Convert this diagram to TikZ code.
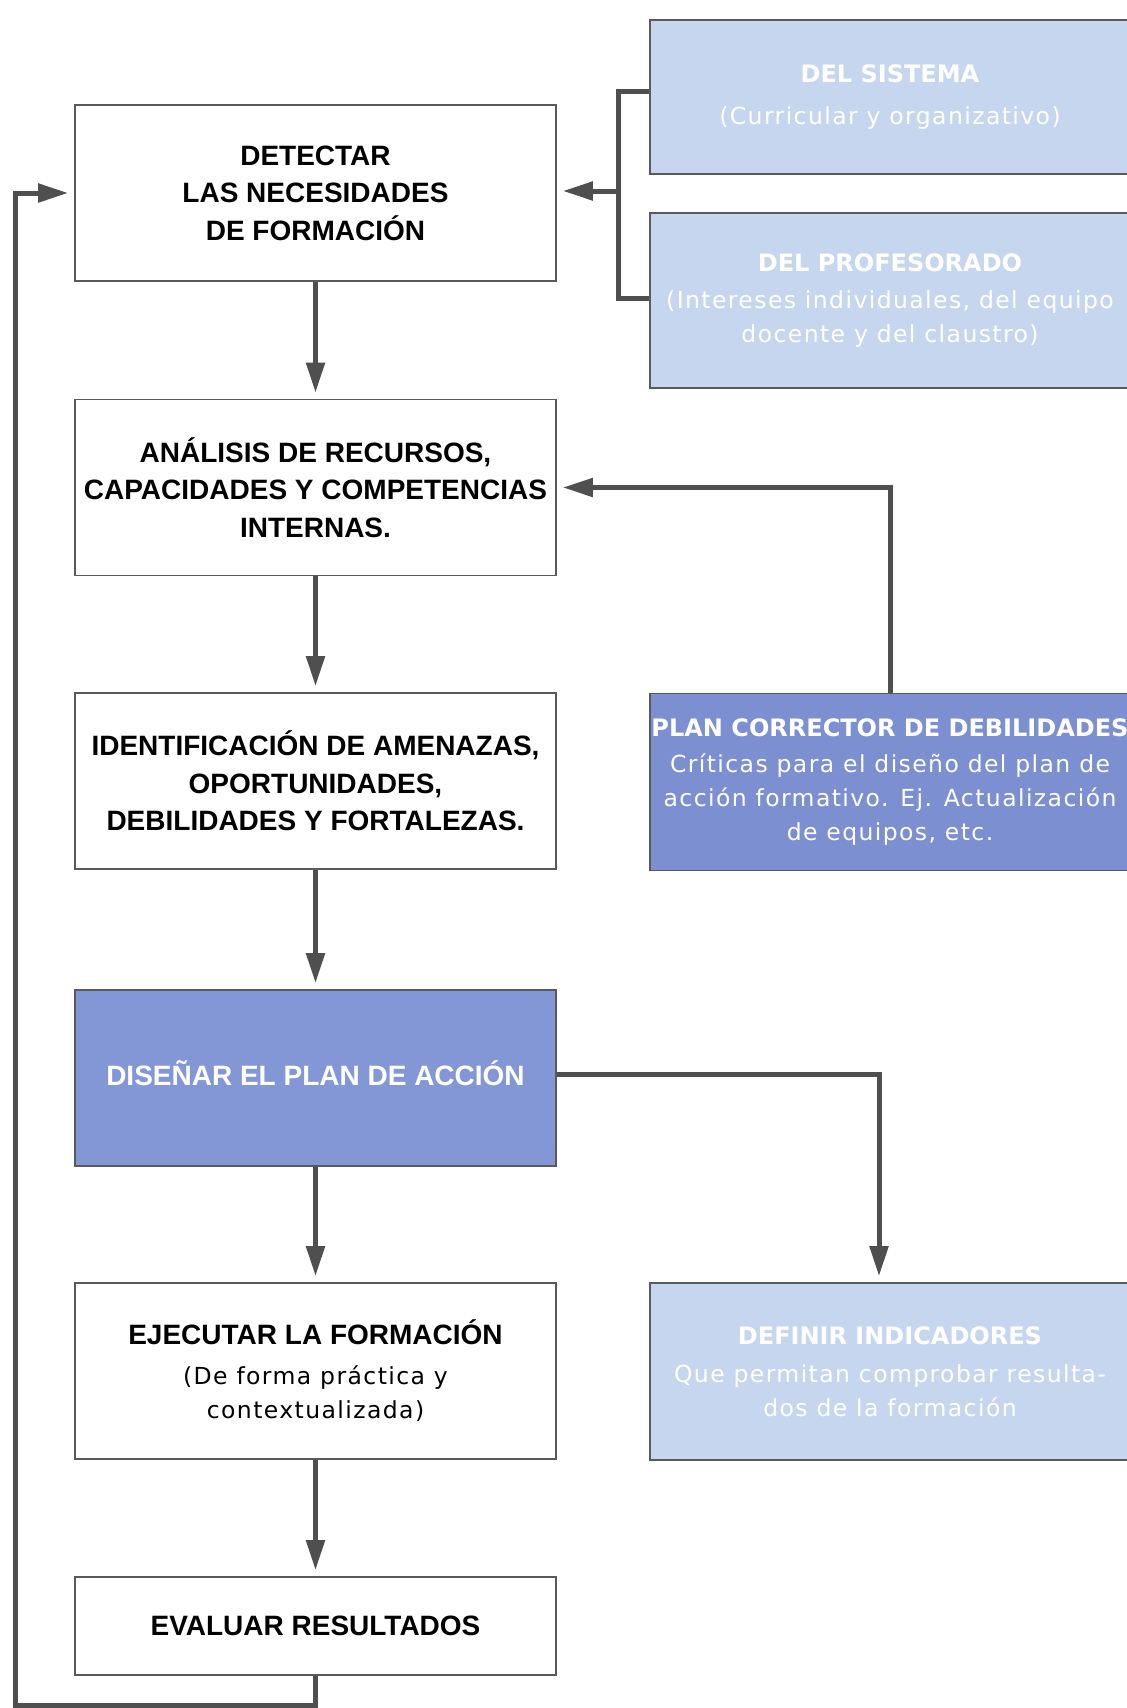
\documentclass[tikz,border=0pt]{standalone}
\usepackage{fontspec}
\setmainfont{Liberation Sans}
\newfontfamily\titf{Liberation Sans}
\newfontfamily\regf[LetterSpace=6]{DejaVu Sans}
\newfontfamily\rtitf{DejaVu Sans}
\usetikzlibrary{arrows.meta}
\definecolor{lineg}{HTML}{4F4F4F}
\definecolor{boxg}{HTML}{5A5A5A}
\definecolor{lightb}{HTML}{C6D6EE}
\definecolor{midb}{HTML}{8397D6}
\definecolor{midb2}{HTML}{7B8FD1}
\newcommand{\ltitle}{\titf\bfseries\fontsize{28}{37.5}\selectfont}
\newcommand{\lsubt}{\regf\fontsize{23.5}{34}\selectfont}
\newcommand{\rtitle}{\rtitf\bfseries\fontsize{24}{34}\selectfont}
\newcommand{\rsubt}{\regf\fontsize{23.5}{34}\selectfont}
\tikzset{
  wbox/.style={draw=boxg, line width=1.6pt, fill=white, minimum width=481pt,
    minimum height=176pt, inner sep=0pt, align=center, text=black, font=\ltitle},
  lbox/.style={draw=boxg, line width=1.6pt, fill=lightb, minimum width=480pt,
    inner sep=0pt, align=center, text=white, font=\rsubt},
  mbox/.style={draw=boxg, line width=1.6pt, fill=midb, minimum width=481pt,
    minimum height=176pt, inner sep=0pt, align=center, text=white, font=\ltitle},
  conn/.style={draw=lineg, line width=5pt},
  arr/.style={conn, -{Triangle[length=30pt,width=18pt]}, shorten >=6pt},
}
\begin{document}
\begin{tikzpicture}[x=1pt,y=-1pt]
\useasboundingbox (0,0) rectangle (1127,1708);
% left column
\node[wbox] (det) at (315.5,193) {DETECTAR\\ LAS NECESIDADES\\ DE FORMACIÓN};
\node[wbox] (ana) at (315.5,487.5) {ANÁLISIS DE RECURSOS,\\ CAPACIDADES Y COMPETENCIAS\\ INTERNAS.};
\node[wbox] (ide) at (315.5,781) {IDENTIFICACIÓN DE AMENAZAS,\\ OPORTUNIDADES,\\ DEBILIDADES Y FORTALEZAS.};
\node[mbox, text depth=10pt] (dis) at (315.5,1078) {DISEÑAR EL PLAN DE ACCIÓN};
\node[wbox, font=\lsubt] (eje) at (315.5,1371) {{\ltitle EJECUTAR LA FORMACIÓN}\\[6pt] (De forma práctica y\\ contextualizada)};
\node[wbox, minimum height=98pt] (eva) at (315.5,1626) {EVALUAR RESULTADOS};
% right column
\node[lbox, minimum height=154pt] (sis) at (890,97) {{\rtitle DEL SISTEMA}\\[8pt] (Curricular y organizativo)};
\node[lbox, minimum height=175pt] (pro) at (890,300.5) {{\rtitle DEL PROFESORADO}\\[3pt] (Intereses individuales, del equipo\\ docente y del claustro)};
\node[lbox, fill=midb2, minimum height=177pt] (pla) at (890,782) {{\rtitle PLAN CORRECTOR DE DEBILIDADES}\\[2pt] Críticas para el diseño del plan de\\ acción formativo. Ej. Actualización\\ de equipos, etc.};
\node[lbox, minimum height=177pt] (def) at (890,1371.5) {{\rtitle DEFINIR INDICADORES}\\[4pt] Que permitan comprobar resulta-\\ dos de la formación};
% bracket from right boxes
\coordinate (b1) at (618,91);
\coordinate (b2) at (618,298);
\coordinate (bm) at (618,191);
\draw[conn] (sis.west |- b1) -- (b1) -- (b2) -- (pro.west |- b2);
\draw[arr] (bm) -- (det.east |- bm);
% main flow
\draw[arr] (det.south) -- (ana.north);
\draw[arr] (ana.south) -- (ide.north);
\draw[arr] (ide.south) -- (dis.north);
\draw[arr] (dis.south) -- (eje.north);
\draw[arr] (eje.south) -- (eva.north);
% plan corrector to analysis
\draw[arr] (pla.north) |- (ana.east);
% design to indicators
\coordinate (dk) at (879,1074);
\draw[arr] (dis.east |- dk) -- (dk) -- (dk |- def.north);
% feedback loop
\coordinate (f1) at (315.5,1705);
\coordinate (f2) at (15,1705);
\coordinate (f3) at (15,193);
\draw[arr] (eva.south) -- (f1) -- (f2) -- (f3) -- (det.west);
\end{tikzpicture}
\end{document}
